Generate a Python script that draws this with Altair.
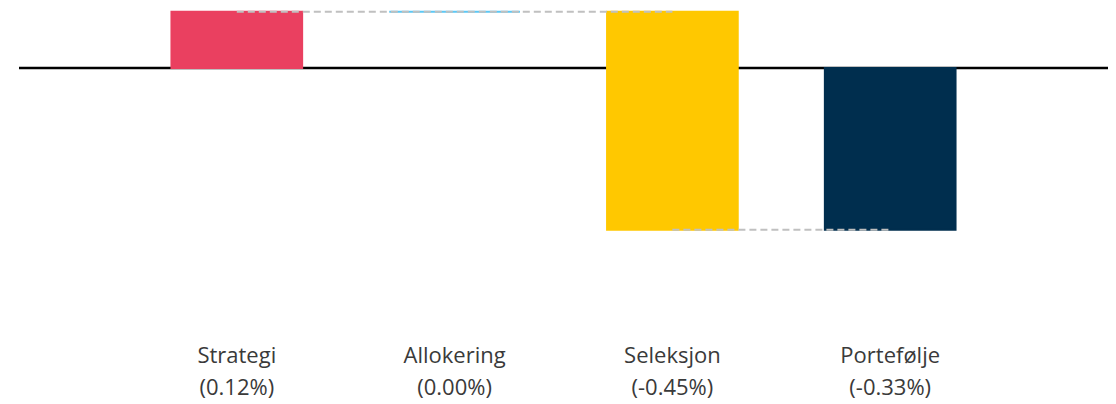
import altair as alt
import pandas as pd

categories = ["Strategi", "Allokering", "Seleksjon", "Portefølje"]
label_values = ["(0.12%)", "(0.00%)", "(-0.45%)", "(-0.33%)"]
starts = [0.0, 0.116, 0.116, 0.0]
ends = [0.116, 0.116, -0.334, -0.334]
colors = ["#EA4060", "#5BC8F5", "#FFC800", "#002E4E"]

keys = [f"{c}|{l}" for c, l in zip(categories, label_values)]
bars = pd.DataFrame({"key": keys, "start": starts, "end": ends, "color": colors})

conn_group = ["a", "a", "b", "b"]
conn_key = [keys[0], keys[2], keys[2], keys[3]]
conn_val = [ends[0], ends[0], ends[2], ends[2]]
conns = pd.DataFrame({"g": conn_group, "key": conn_key, "v": conn_val})

xscale = alt.Scale(domain=keys, paddingInner=0.4, paddingOuter=0.7)
yscale = alt.Scale(domain=[-0.5, 0.124], nice=False, zero=False)

xenc = alt.X("key:N", scale=xscale, sort=keys,
             axis=alt.Axis(title=None, labelExpr="split(datum.label, '|')",
                           labelAngle=0, domain=False, ticks=False,
                           labelFont="Open Sans", labelFontSize=22,
                           labelColor="#3A3A3A", labelPadding=35,
                           labelLineHeight=32, labelBaseline="top"))

base_line = alt.Chart(pd.DataFrame({"z": [0.0]})).mark_rule(
    color="#000000", strokeWidth=2.5).encode(
    y=alt.Y("z:Q", scale=yscale, axis=None))

connectors = alt.Chart(conns).mark_line(
    color="#C0C0C0", strokeDash=[7, 4], strokeWidth=2).encode(
    x=xenc, y=alt.Y("v:Q", scale=yscale, axis=None), detail="g:N")

bar_layer = alt.Chart(bars).mark_bar(strokeWidth=2).encode(
    x=xenc,
    y=alt.Y("start:Q", scale=yscale, axis=None),
    y2="end:Q",
    color=alt.Color("color:N", scale=None),
    stroke=alt.Stroke("color:N", scale=None),
)

chart = alt.layer(base_line, bar_layer, connectors).properties(
    width=1089, height=302,
    autosize=alt.AutoSizeParams(type="none"),
    padding={"left": 11, "top": 0, "right": 0, "bottom": 100},
).configure_view(stroke=None)

chart.save("out.html", embed_options={"renderer": "svg", "actions": False})
